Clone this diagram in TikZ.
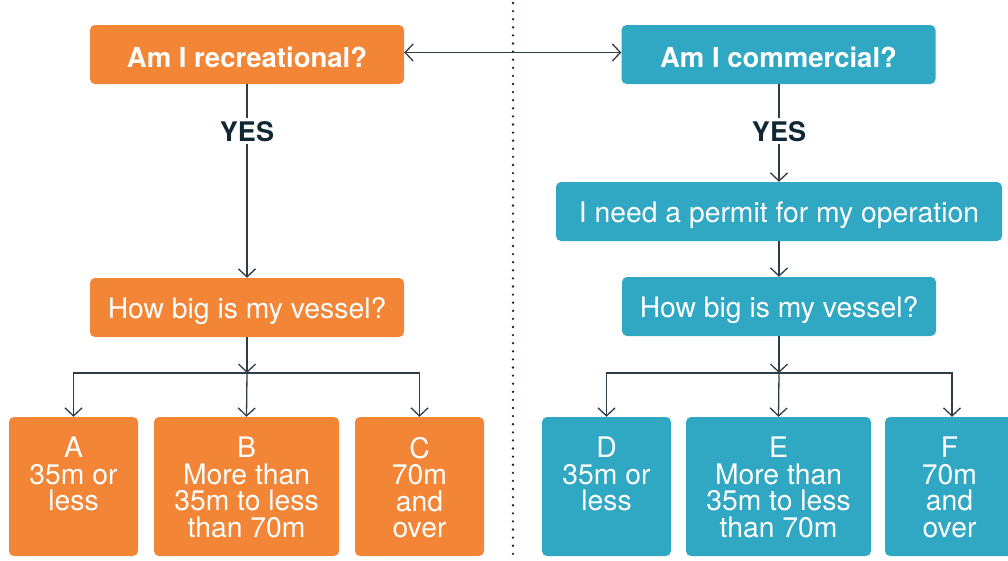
\documentclass[tikz,border=0pt]{standalone}
\usepackage{fontspec}
\setmainfont{TeX Gyre Heros}
\usetikzlibrary{arrows.meta}
\definecolor{orangeB}{RGB}{243,133,54}
\definecolor{tealB}{RGB}{48,167,195}
\definecolor{lineC}{RGB}{45,62,72}
\definecolor{yesC}{RGB}{16,40,52}
\tikzset{
  box/.style={rounded corners=5pt, inner sep=0pt, text=white, align=center,
    text height=21pt, text depth=0pt},
  obox/.style={box, fill=orangeB},
  tbox/.style={box, fill=tealB},
  qfont/.style={font=\fontsize{28.3pt}{26.5pt}\selectfont},
  bfont/.style={font=\bfseries\fontsize{27.5pt}{26.5pt}\selectfont, text height=25pt},
  btxt/.style={text=white, align=center, inner sep=0pt, anchor=north,
    font=\fontsize{28.3pt}{26.6pt}\selectfont},
  yeslbl/.style={text=yesC, font=\bfseries\fontsize{27pt}{27pt}\selectfont,
    inner sep=3pt, text height=20pt, text depth=0pt},
  conn/.style={draw=lineC, line width=1.3pt},
  arr/.style={conn, -{Straight Barb[length=8pt,width=17pt,line width=1.3pt]}},
  darr/.style={conn, {Straight Barb[length=8pt,width=17pt,line width=1.3pt]}-{Straight Barb[length=8pt,width=17pt,line width=1.3pt]}},
}
\begin{document}
\begin{tikzpicture}[x=1pt,y=-1pt]
\useasboundingbox (0,0) rectangle (1008,560);
\clip (0,0) rectangle (1008,560);
% divider
\coordinate (dtop) at (513,3);
\coordinate (dbot) at (513,560);
\draw[yesC, line width=2.6pt, line cap=round, dash pattern=on 0pt off 8.1pt] (dtop) -- (dbot);

% top boxes
\node[obox, bfont, minimum width=314pt, minimum height=59pt] (rec) at (247,54.5) {Am I recreational?};
\node[tbox, bfont, minimum width=314pt, minimum height=59pt] (com) at (778.5,54.5) {Am I commercial?};
\draw[darr] ([yshift=2pt]rec.east) -- ([yshift=2pt]com.west);

% YES labels
\node[yeslbl] (yesL) at (247,131) {YES};
\node[yeslbl] (yesR) at (779,131) {YES};

% left middle
\node[obox, qfont, minimum width=314pt, minimum height=59pt] (howL) at (247,307.5) {How big is my vessel?};
% right middle
\node[tbox, qfont, minimum width=446pt, minimum height=59pt] (perm) at (779,211.5) {I need a permit for my operation};
\node[tbox, qfont, minimum width=314pt, minimum height=59pt] (howR) at (779,306.5) {How big is my vessel?};

\draw[conn] (rec.south) -- (yesL.north);
\draw[arr] (yesL.south) -- (howL.north);
\draw[conn] (com.south -| yesR) -- (yesR.north);
\draw[arr] (yesR.south) -- (perm.north -| yesR);
\draw[arr] (perm.south -| howR) -- (howR.north);

% bottom boxes
\node[obox, minimum width=129pt, minimum height=139pt] (A) at (73.5,486.5) {};
\node[obox, minimum width=185pt, minimum height=139pt] (B) at (246.5,486.5) {};
\node[obox, minimum width=129pt, minimum height=139pt] (C) at (419.5,486.5) {};
\node[tbox, minimum width=129pt, minimum height=139pt] (D) at (606.5,486.5) {};
\node[tbox, minimum width=185pt, minimum height=139pt] (E) at (778.5,486.5) {};
\node[tbox, minimum width=129pt, minimum height=139pt] (F) at (949.5,486.5) {};

\node[btxt] (At) at ([yshift=-20pt]A.north) {A\\35m or\\less};
\node[btxt] (Bt) at ([yshift=-20pt]B.north) {B\\More than\\35m to less\\than 70m};
\node[btxt] (Ct) at ([yshift=-20pt]C.north) {C\\70m\\and\\over};
\node[btxt] (Dt) at ([yshift=-20pt]D.north) {D\\35m or\\less};
\node[btxt] (Et) at ([yshift=-20pt]E.north) {E\\More than\\35m to less\\than 70m};
\node[btxt] (Ft) at ([yshift=-20pt]F.north) {F\\70m\\and\\over};

% branches
\coordinate (jL) at (247,373);
\coordinate (jR) at (779,373);
\draw[arr] (howL.south) -- (jL);
\draw[arr] (jL) -| (A.north);
\draw[arr] (jL) -- (B.north);
\draw[arr] (jL) -| (C.north);
\draw[arr] (howR.south) -- (jR);
\draw[arr] (jR) -| (D.north);
\draw[arr] (jR) -- (E.north);
\draw[arr] (jR) -| ([xshift=2.5pt]F.north);
\end{tikzpicture}
\end{document}
